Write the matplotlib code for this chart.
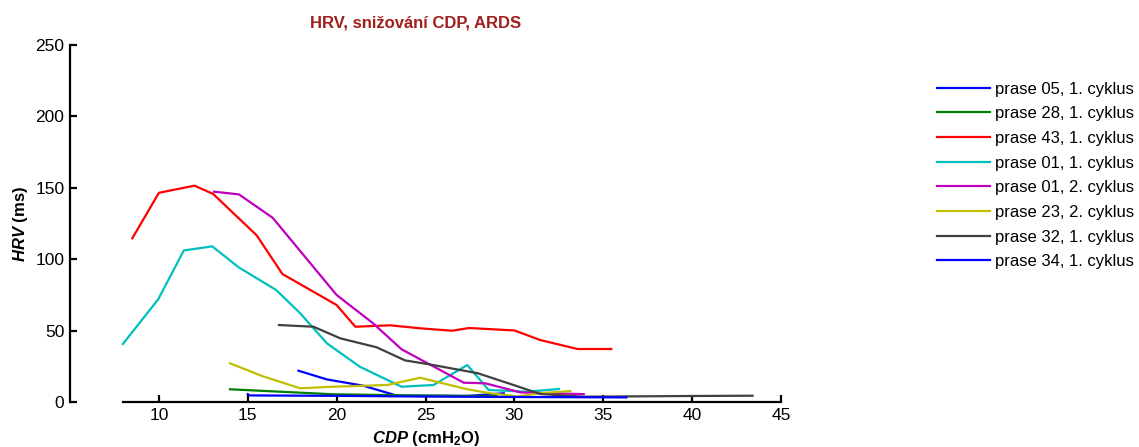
import matplotlib.pyplot as plt

plt.rcParams['font.family'] = ['Liberation Sans', 'DejaVu Sans']
plt.rcParams['mathtext.fontset'] = 'custom'
plt.rcParams['mathtext.rm'] = 'Liberation Sans'
plt.rcParams['mathtext.bf'] = 'Liberation Sans:bold'
plt.rcParams['mathtext.it'] = 'Liberation Sans:italic'
plt.rcParams['mathtext.bfit'] = 'Liberation Sans:bold:italic'

# CDP (cmH2O) and HRV (ms) for each animal / cycle
x05_1 = [17.85, 19.45, 21.5, 23.4, 25.45, 27.35, 29.4]
y05_1 = [21.9, 15.8, 11.4, 4.4, 4.4, 4.2, 6.1]

x28_1 = [14.0, 19.8, 25.4, 29.0]
y28_1 = [8.9, 5.4, 4.4, 4.2]

x43_1 = [8.5, 10.0, 12.0, 13.05, 15.5, 16.95, 20.0, 21.05, 23.0, 24.7, 26.5, 27.45, 30.0, 31.45, 33.55, 35.45]
y43_1 = [114.6, 146.5, 151.5, 145.7, 116.7, 89.6, 67.9, 52.7, 53.7, 51.6, 49.9, 51.8, 50.1, 43.4, 37.1, 37.1]

x01_1 = [7.97, 9.96, 11.4, 13.0, 14.5, 16.6, 17.95, 19.45, 21.3, 23.65, 25.45, 27.35, 28.55, 30.7, 32.5]
y01_1 = [40.6, 71.9, 106.1, 109.0, 94.2, 78.4, 62.1, 41.1, 24.7, 10.7, 11.9, 25.9, 8.4, 7.2, 9.1]

x01_2 = [13.1, 14.5, 16.4, 20.0, 22.05, 23.65, 27.15, 28.35, 30.35, 33.9]
y01_2 = [147.3, 145.4, 129.0, 74.9, 55.1, 36.9, 13.5, 13.1, 6.7, 5.5]

x23_2 = [14.0, 15.8, 17.95, 19.8, 22.85, 24.7, 27.35, 28.65, 30.2, 31.45, 33.15]
y23_2 = [27.1, 18.2, 9.6, 10.7, 11.9, 17.0, 8.9, 6.1, 3.9, 6.1, 7.7]

x32_1 = [16.75, 18.7, 20.2, 22.25, 23.85, 25.25, 27.95, 29.95, 31.45, 33.9, 39.9, 43.4]
y32_1 = [53.9, 52.7, 44.6, 38.3, 29.1, 26.3, 20.1, 11.9, 5.6, 3.7, 4.2, 4.4]

x34_1 = [15.0, 15.1, 20.0, 25.0, 30.0, 36.3]
y34_1 = [5.5, 4.6, 4.3, 3.8, 3.5, 3.2]

series = [
    (x05_1, y05_1, '#0000FF', 'prase 05, 1. cyklus'),
    (x28_1, y28_1, '#008000', 'prase 28, 1. cyklus'),
    (x43_1, y43_1, '#FF0000', 'prase 43, 1. cyklus'),
    (x01_1, y01_1, '#00BFBF', 'prase 01, 1. cyklus'),
    (x01_2, y01_2, '#BF00BF', 'prase 01, 2. cyklus'),
    (x23_2, y23_2, '#BFBF00', 'prase 23, 2. cyklus'),
    (x32_1, y32_1, '#404040', 'prase 32, 1. cyklus'),
    (x34_1, y34_1, '#0000FF', 'prase 34, 1. cyklus'),
]

fig = plt.figure(figsize=(11.39, 4.47), dpi=100)
ax = fig.add_axes([0.0615, 0.1007, 0.6242, 0.7986])

for x, y, c, lab in series:
    ax.plot(x, y, color=c, lw=1.6, label=lab)

ax.set_xlim(5, 45)
ax.set_ylim(0, 250)
ax.set_xticks(range(10, 50, 5))
ax.set_yticks(range(0, 300, 50))
ax.spines['top'].set_visible(False)
ax.spines['right'].set_visible(False)
ax.spines['bottom'].set_bounds(8, 45)
for s in ('left', 'bottom'):
    ax.spines[s].set_linewidth(1.6)
ax.tick_params(direction='in', length=5, width=1.6, labelsize=12.5, pad=4)

ax.set_xlabel(r'$\mathbfit{CDP}$ $\mathbf{(cmH_2O)}$', fontsize=12, labelpad=5)
ax.set_ylabel(r'$\mathbfit{HRV}$ $\mathbf{(ms)}$', fontsize=12, labelpad=4)

fig.text(0.365, 0.949, 'HRV, snižování CDP, ARDS', ha='center', va='center',
         fontsize=12, fontweight='bold', color='#A01E1E')

fig.legend(loc='upper left', bbox_to_anchor=(0.8227, 0.8176), frameon=False,
           fontsize=12, handlelength=3.2, handletextpad=0.3, labelspacing=0.58,
           borderaxespad=0, borderpad=0)

fig.savefig('out.png', dpi=100)
